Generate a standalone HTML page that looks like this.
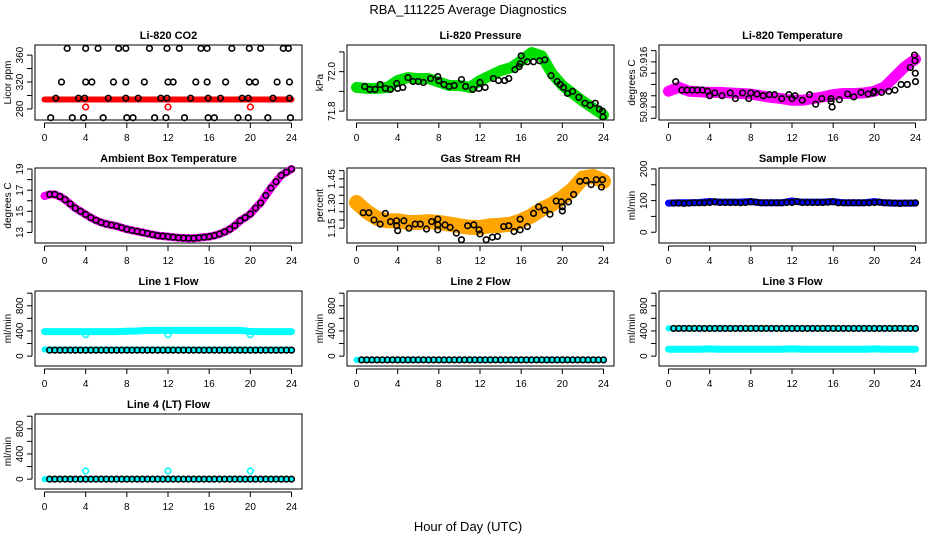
<!DOCTYPE html>
<html><head><meta charset="utf-8">
<style>
body{margin:0;background:#fff;}
svg{display:block;font-family:"Liberation Sans",sans-serif;}
</style></head>
<body>
<svg id="chart" width="936" height="540" viewBox="0 0 936 540" xmlns="http://www.w3.org/2000/svg">
<text x="468" y="14" text-anchor="middle" font-size="13">RBA_111225  Average Diagnostics</text>
<text x="468" y="531" text-anchor="middle" font-size="13">Hour of Day (UTC)</text>
</svg>
<script>
// ---------- data ----------
const xTicks = [0,4,8,12,16,20,24];
// CO2
const co2BandH = [0,24];
const co2BandV = [294,294];
const co2TopH = [2.2,4.0,5.2,7.2,7.9,10.2,11.9,13.1,15.2,15.8,18.2,19.9,21.0,23.2,23.7];
const co2MidH = [1.65,4.0,4.6,6.7,7.9,9.7,12.0,12.5,14.7,15.8,17.6,19.9,20.5,22.6,23.8];
const co2LowH = [1.1,3.3,3.9,6.2,7.9,9.1,11.3,11.9,14.2,15.9,17.1,19.2,19.8,22.2,23.8];
const co2BotH = [0.6,2.7,3.8,5.7,8.0,8.6,10.7,11.8,13.6,15.9,16.5,18.8,19.8,21.7,23.9];
const co2Levels = [370,320,296,267];
const co2RedH = [4,12,20];
const co2RedV = [283,283,283];
// Pressure
const bandHours = [0,1,2,3,4,5,6,7,8,9,10,11,12,13,14,15,16,17,18,19,20,21,22,23,24];
const presBand = [71.92,71.915,71.915,71.92,71.955,71.97,71.965,71.965,71.947,71.93,71.93,71.92,71.955,71.98,72.005,72.02,72.055,72.097,72.08,71.99,71.93,71.89,71.85,71.815,71.78];
const presPtsH = [0.8,1.3,1.8,2.3,2.8,3.3,3.9,4.0,4.5,5.0,5.5,6.0,6.5,7.2,7.9,8.0,8.5,9.0,9.5,10.2,10.6,11.3,11.9,12.0,12.5,13.3,13.8,14.4,14.8,15.4,15.8,15.9,16.0,16.6,17.2,17.8,18.3,18.9,19.5,19.8,20.1,20.5,21.0,21.6,22.2,22.7,23.2,23.6,23.9,23.95];
const presPtsV = [71.925,71.91,71.91,71.935,71.915,71.91,71.94,71.915,71.92,71.97,71.95,71.95,71.945,71.965,71.975,71.955,71.935,71.925,71.93,71.96,71.925,71.91,71.915,71.945,71.92,71.965,71.955,71.955,71.965,72.01,72.025,72.04,72.08,72.05,72.05,72.055,72.06,71.98,71.95,71.935,71.92,71.89,71.9,71.87,71.84,71.83,71.84,71.81,71.8,71.77];
// Li-820 temperature
const tempBand = [50.9108,50.9115,50.9108,50.9107,50.9106,50.9106,50.9105,50.9104,50.9103,50.9100,50.9097,50.9095,50.9092,50.9092,50.9095,50.9098,50.9102,50.9104,50.9104,50.9105,50.9108,50.9116,50.9134,50.9152,50.9165];
const tempPtsH = [0.7,1.3,1.8,2.3,2.8,3.3,3.8,4.0,4.5,5.2,6.0,6.5,7.2,7.8,8.0,8.6,9.2,9.8,10.3,11.0,11.7,12.0,12.3,13.0,13.7,14.3,14.9,15.8,15.8,15.9,16.6,17.4,18.0,18.7,19.4,19.9,20.0,20.7,21.4,22.0,22.6,23.2,23.5,23.9,23.95,23.98,24.0];
const tempPtsV = [50.9125,50.911,50.911,50.911,50.911,50.911,50.9108,50.910,50.9105,50.910,50.9105,50.9095,50.9105,50.9095,50.9105,50.9103,50.910,50.9102,50.9102,50.9095,50.9102,50.9095,50.910,50.9092,50.9102,50.9085,50.9095,50.9095,50.909,50.908,50.9093,50.9103,50.9098,50.9106,50.9103,50.9105,50.9108,50.9106,50.9108,50.911,50.912,50.912,50.915,50.9172,50.9162,50.914,50.9125];
// Ambient box temperature
const halfHours = [0,0.5,1,1.5,2,2.5,3,3.5,4,4.5,5,5.5,6,6.5,7,7.5,8,8.5,9,9.5,10,10.5,11,11.5,12,12.5,13,13.5,14,14.5,15,15.5,16,16.5,17,17.5,18,18.5,19,19.5,20,20.5,21,21.5,22,22.5,23,23.5,24];
const ambV = [16.45,16.6,16.6,16.4,16.1,15.7,15.3,15.0,14.7,14.4,14.15,13.95,13.8,13.7,13.6,13.45,13.3,13.2,13.1,13.0,12.9,12.8,12.7,12.65,12.6,12.55,12.5,12.47,12.45,12.45,12.5,12.55,12.6,12.7,12.85,13.05,13.3,13.65,14.1,14.4,14.75,15.3,15.8,16.5,17.2,17.8,18.4,18.7,19.0];
// Gas stream RH
const rhBand = [1.306,1.25,1.21,1.195,1.195,1.185,1.185,1.19,1.185,1.175,1.165,1.155,1.155,1.165,1.168,1.175,1.195,1.225,1.265,1.295,1.335,1.385,1.455,1.465,1.435];
const rhPtsH = [0.65,1.2,1.7,2.3,2.8,3.3,3.9,3.9,4.0,4.6,5.1,5.7,6.2,6.8,7.3,7.9,7.9,7.9,8.6,9.1,9.7,10.2,10.8,11.4,11.9,12.0,12.6,13.2,13.7,14.3,14.8,15.3,15.9,15.9,16.6,17.2,17.7,18.3,18.8,19.4,19.9,20.0,20.0,20.6,21.1,21.7,22.3,22.8,23.3,23.8,23.9];
const rhPtsV = [1.244,1.244,1.2,1.175,1.24,1.19,1.195,1.165,1.135,1.195,1.15,1.175,1.175,1.145,1.19,1.17,1.205,1.14,1.17,1.155,1.12,1.08,1.165,1.17,1.14,1.115,1.08,1.095,1.10,1.16,1.165,1.13,1.14,1.205,1.16,1.24,1.28,1.26,1.235,1.315,1.31,1.28,1.255,1.31,1.355,1.435,1.44,1.415,1.445,1.4,1.445];
// Sample flow
const sfBand = [92,93,93,94,97,95,95,95,97,93,93,93,99,95,95,95,97,93,93,93,97,93,92,92,92];
const sfPts = [92,92,91,92,93,93,93,94,96,94,94,94,94,93,94,96,95,93,93,93,93,93,94,94,97,94,94,94,94,94,95,96,93,93,93,93,93,93,93,94,95,93,93,92,91,92,92,93];
// Line flows (hourly bands, half-hourly points)
const l1Upper = [390,390,390,390,390,390,390,390,395,400,410,410,410,410,410,410,410,410,410,410,392,390,390,390,390];
const l1Lower = [105,105,105,105,105,105,105,105,105,105,105,105,105,105,105,105,105,105,105,105,105,105,105,105,105];
const l1Pts = [95,95,95,95,95,95,95,95,95,95,95,95,95,95,95,95,95,95,95,95,95,95,95,95,95,95,95,95,95,95,95,95,95,95,95,95,95,95,95,95,95,95,95,95,95,95,95,95];
const l1Dips = [340,340,340];
const l2Band = [-60,-60,-60,-60,-60,-60,-60,-60,-60,-60,-60,-60,-60,-60,-60,-60,-60,-60,-60,-60,-60,-60,-60,-60,-60];
const l2Pts = [-60,-60,-60,-60,-60,-60,-60,-60,-60,-60,-60,-60,-60,-60,-60,-60,-60,-60,-60,-60,-60,-60,-60,-60,-60,-60,-60,-60,-60,-60,-60,-60,-60,-60,-60,-60,-60,-60,-60,-60,-60,-60,-60,-60,-60,-60,-60,-60];
const l3Upper = [440,440,440,440,440,440,440,440,440,440,440,440,440,440,440,440,440,440,440,440,440,440,440,440,440];
const l3Lower = [110,110,110,110,115,110,110,110,110,110,110,110,115,110,110,110,110,110,110,110,115,110,110,110,110];
const l3Pts = [440,440,440,440,440,440,440,440,440,440,440,440,440,440,440,440,440,440,440,440,440,440,440,440,440,440,440,440,440,440,440,440,440,440,440,440,440,440,440,440,440,440,440,440,440,440,440,440];
const l4Band = [0,0,0,0,0,0,0,0,0,0,0,0,0,0,0,0,0,0,0,0,0,0,0,0,0];
const l4Pts = [0,0,0,0,0,0,0,0,0,0,0,0,0,0,0,0,0,0,0,0,0,0,0,0,0,0,0,0,0,0,0,0,0,0,0,0,0,0,0,0,0,0,0,0,0,0,0,0];
const l4Spikes = [130,130,130];
const spikeH = [4,12,20];

// ---------- drawing ----------
const NS = "http://www.w3.org/2000/svg";
const svg = document.getElementById('chart');
function el(tag, attrs, parent){
  const e = document.createElementNS(NS, tag);
  for (const k in attrs) e.setAttribute(k, attrs[k]);
  (parent||svg).appendChild(e);
  return e;
}
const colX = [35,347,659], rowY = [45,168,291,414], PW = 267, PH = 75;

function makePanel(col,row,title,ylab,ymin,ymax,ticks,labels,name){
  const x0 = colX[col], y0 = rowY[row];
  const g = el('g',{});
  
  
  const xs = h => x0 + 9.5 + h*(247/24);
  const ys = v => y0 + PH - (v - ymin)/(ymax - ymin)*PH;
  const t = el('text',{x:x0+PW/2,y:y0-6,'text-anchor':'middle','font-size':11,'font-weight':'bold'},g);
  t.textContent = title;
  
  
  const box = el('rect',{x:x0,y:y0,width:PW,height:PH,fill:'none',stroke:'#000','stroke-width':1},g);
  
  
  const xa = el('g',{},g);
  
  
  const ay = y0+PH+3;
  el('line',{x1:xs(0),x2:xs(24),y1:ay,y2:ay,stroke:'#000'},xa);
  xTicks.forEach(h=>{
    el('line',{x1:xs(h),x2:xs(h),y1:ay,y2:ay+5,stroke:'#000'},xa);
    const tl = el('text',{x:xs(h),y:y0+PH+21,'text-anchor':'middle','font-size':10},xa);
    tl.textContent = h;
    
    
  });
  const ya = el('g',{},g);
  
  
  const ax = x0-3;
  el('line',{x1:ax,x2:ax,y1:ys(ticks[0]),y2:ys(ticks[ticks.length-1]),stroke:'#000'},ya);
  ticks.forEach(v=>{
    el('line',{x1:ax-5,x2:ax,y1:ys(v),y2:ys(v),stroke:'#000'},ya);
  });
  labels.forEach(lb=>{
    const yy = ys(parseFloat(lb));
    const tl = el('text',{x:0,y:0,'text-anchor':'middle','font-size':10,transform:`translate(${x0-12},${yy}) rotate(-90)`},ya);
    tl.textContent = lb;
    
    
  });
  const yl = el('text',{x:0,y:0,'text-anchor':'middle','font-size':10,transform:`translate(${x0-24},${y0+PH/2}) rotate(-90)`},g);
  yl.textContent = ylab;
  
  
  const clip = el('g',{},g);
  return {g:clip,xs,ys};
}
function band(p,hs,vs,color,w,name){
  const pts = hs.map((h,i)=>p.xs(h)+','+p.ys(vs[i])).join(' ');
  const pl = el('polyline',{points:pts,fill:'none',stroke:color,'stroke-width':w,'stroke-linejoin':'round','stroke-linecap':'round'},p.g);
  
  
}
function circles(p,hs,vs,color,name,r){
  hs.forEach((h,i)=>{
    const c = el('circle',{cx:p.xs(h),cy:p.ys(vs[i]),r:r||2.8,fill:'none',stroke:color,'stroke-width':1.6},p.g);
    
    
  });
}
const pointHours = halfHours.slice(1);

let p = makePanel(0,0,'Li-820 CO2','Licor ppm',263.6,375,[280,300,320,340,360],['280','320','360'],'co2');
band(p,co2BandH,co2BandV,'#ff0000',6,'co2-band');
circles(p,co2RedH,co2RedV,'#ff0000','co2-red-point');
[co2TopH,co2MidH,co2LowH,co2BotH].forEach((arr,k)=>circles(p,arr,arr.map(()=>co2Levels[k]),'#000','co2-point'));

p = makePanel(1,0,'Li-820 Pressure','kPa',71.755,72.135,[71.8,71.9,72.0,72.1],['71.8','72.0'],'pressure');
band(p,bandHours,presBand,'#00dd00',11,'pressure-band');
circles(p,presPtsH,presPtsV,'#000','pressure-point');

p = makePanel(2,0,'Li-820 Temperature','degrees C',50.9057,50.919,[50.906,50.908,50.910,50.912,50.914,50.916,50.918],['50.908','50.916'],'li820-temp');
band(p,bandHours,tempBand,'#ff00ff',11,'li820-temp-band');
circles(p,tempPtsH,tempPtsV,'#000','li820-temp-point');

p = makePanel(0,1,'Ambient Box Temperature','degrees C',12.0,19.1,[13,14,15,16,17,18,19],['13','15','17','19'],'ambient');
band(p,halfHours,ambV,'#ff00ff',8,'ambient-band');
circles(p,pointHours,ambV.slice(1),'#000','ambient-point');

p = makePanel(1,1,'Gas Stream RH','percent',1.06,1.516,[1.15,1.20,1.25,1.30,1.35,1.40,1.45,1.50],['1.15','1.30','1.45'],'rh');
band(p,bandHours,rhBand,'#ffa500',15,'rh-band');
circles(p,rhPtsH,rhPtsV,'#000','rh-point');

p = makePanel(2,1,'Sample Flow','ml/min',-34,203,[0,50,100,150,200],['0','100','200'],'sample-flow');
band(p,bandHours,sfBand,'#0000ff',7,'sample-flow-band');
circles(p,pointHours,sfPts,'#000','sample-flow-point');
const flowTicks = [0,200,400,600,800,1000], flowLabels = ['0','400','800'];

p = makePanel(0,2,'Line 1 Flow','ml/min',-157,1035,flowTicks,flowLabels,'line1');
band(p,bandHours,l1Upper,'#00ffff',7,'line1-upper-band');
band(p,bandHours,l1Lower,'#00ffff',6,'line1-lower-band');
circles(p,spikeH,l1Dips,'#00ffff','line1-cyan-point');
circles(p,pointHours,l1Pts,'#000','line1-point');

p = makePanel(1,2,'Line 2 Flow','ml/min',-157,1035,flowTicks,flowLabels,'line2');
band(p,bandHours,l2Band,'#00ffff',6,'line2-band');
circles(p,pointHours,l2Pts,'#000','line2-point');

p = makePanel(2,2,'Line 3 Flow','ml/min',-157,1035,flowTicks,flowLabels,'line3');
band(p,bandHours,l3Upper,'#00ffff',6,'line3-upper-band');
band(p,bandHours,l3Lower,'#00ffff',7,'line3-lower-band');
circles(p,pointHours,l3Pts,'#000','line3-point');

p = makePanel(0,3,'Line 4 (LT) Flow','ml/min',-157,1035,flowTicks,flowLabels,'line4');
band(p,bandHours,l4Band,'#00ffff',6,'line4-band');
circles(p,spikeH,l4Spikes,'#00ffff','line4-cyan-point');
circles(p,pointHours,l4Pts,'#000','line4-point');
</script>
</body></html>
